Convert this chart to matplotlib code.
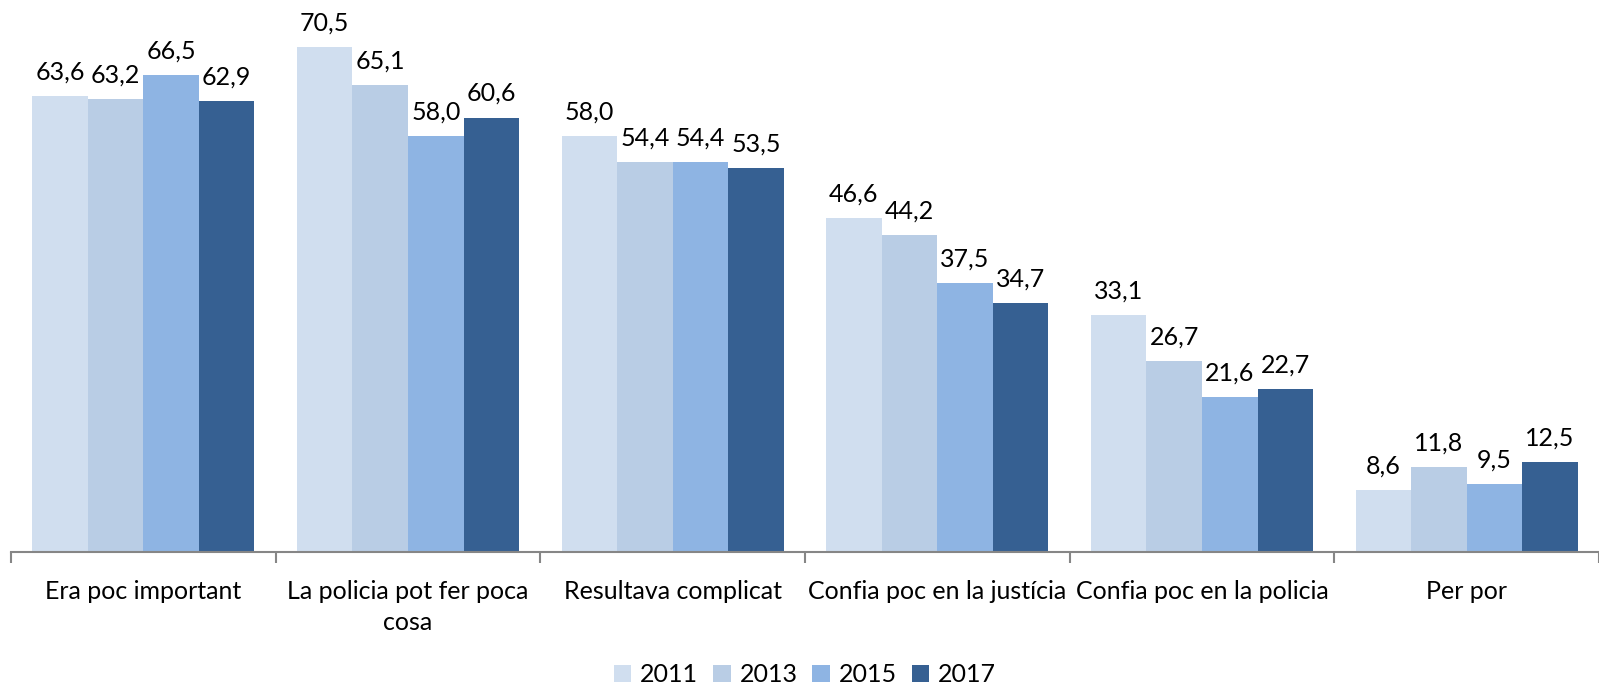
import matplotlib.pyplot as plt
import numpy as np

plt.rcParams['font.family'] = ['Lato', 'DejaVu Sans']

categories = ["Era poc important", "La policia pot fer poca\ncosa", "Resultava complicat",
              "Confia poc en la justícia", "Confia poc en la policia", "Per por"]
years = ["2011", "2013", "2015", "2017"]
v2011 = [63.6, 70.5, 58.0, 46.6, 33.1, 8.6]
v2013 = [63.2, 65.1, 54.4, 44.2, 26.7, 11.8]
v2015 = [66.5, 58.0, 54.4, 37.5, 21.6, 9.5]
v2017 = [62.9, 60.6, 53.5, 34.7, 22.7, 12.5]
series = [v2011, v2013, v2015, v2017]
colors = ["#D0DEEF", "#B9CDE5", "#8EB4E3", "#366092"]

fig = plt.figure(figsize=(15.99, 6.85), dpi=100)
ax = fig.add_axes([11 / 1599, 133 / 685, 1588 / 1599, 552 / 685])

x = np.arange(len(categories))
w = 0.21
for i, (vals, c, yr) in enumerate(zip(series, colors, years)):
    pos = x + (i - 1.5) * w
    bars = ax.bar(pos, vals, width=w, color=c, label=yr)
    for b, v in zip(bars, vals):
        ax.annotate(f"{v:.1f}".replace('.', ','), (b.get_x() + b.get_width() / 2, v),
                    xytext=(0, 9), textcoords='offset points',
                    ha='center', va='bottom', fontsize=18, color='black')

ax.set_xlim(-0.5, len(categories) - 0.5)
ax.set_ylim(0, 77)
ax.set_yticks([])
for s in ['left', 'right', 'top']:
    ax.spines[s].set_visible(False)
ax.spines['bottom'].set_color('#868686')
ax.spines['bottom'].set_linewidth(1.5)

ax.set_xticks(x)
ax.set_xticklabels(categories, fontsize=18, linespacing=1.45)
ax.tick_params(axis='x', which='major', length=0, pad=20)
ax.set_xticks(np.arange(len(categories) + 1) - 0.5, minor=True)
ax.tick_params(axis='x', which='minor', length=8, width=1.5, color='#868686')
ax.patch.set_alpha(0)

ax.legend(loc='center', bbox_to_anchor=(0.5, -0.222), ncol=4, frameon=False,
          fontsize=18, handlelength=0.7, handleheight=0.7, handletextpad=0.35,
          columnspacing=0.6)

fig.savefig("out.png", dpi=100)
